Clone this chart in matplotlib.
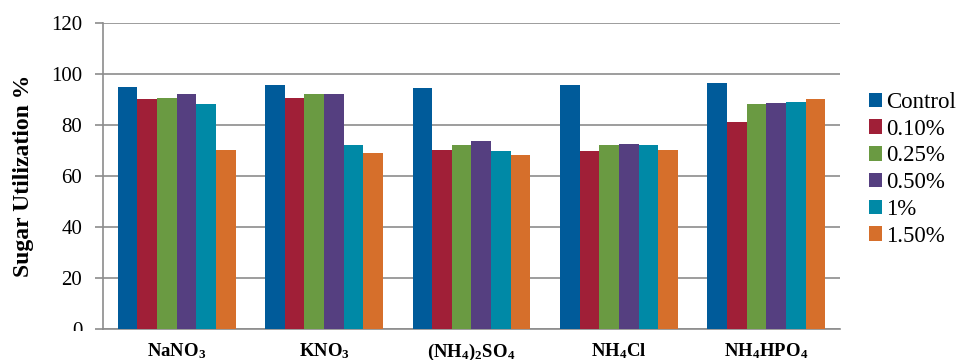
import numpy as np
import matplotlib
matplotlib.use("Agg")
import matplotlib.pyplot as plt
from matplotlib.patches import Rectangle

plt.rcParams['font.family'] = ['Liberation Serif', 'DejaVu Serif']
plt.rcParams['mathtext.fontset'] = 'custom'
plt.rcParams['mathtext.rm'] = 'Liberation Serif'
plt.rcParams['mathtext.bf'] = 'Liberation Serif:bold'

salts = [r'$\mathbf{NaNO_3}$', r'$\mathbf{KNO_3}$', r'$\mathbf{(NH_4)_2SO_4}$',
         r'$\mathbf{NH_4Cl}$', r'$\mathbf{NH_4HPO_4}$']
series = ['Control', '0.10%', '0.25%', '0.50%', '1%', '1.50%']
colors = ['#005b9a', '#a01f37', '#6a9a42', '#553f80', '#0089a6', '#d66f2b']

control = [95.0, 95.8, 94.7, 95.8, 96.3]
c010 = [90.2, 90.5, 70.1, 70.0, 81.2]
c025 = [90.7, 92.0, 72.0, 72.2, 88.4]
c050 = [92.3, 92.2, 73.8, 72.7, 88.6]
c100 = [88.4, 72.0, 70.0, 72.0, 89.0]
c150 = [70.1, 69.2, 68.4, 70.2, 90.1]
values = [control, c010, c025, c050, c100, c150]

fig = plt.figure(figsize=(9.56, 3.6), dpi=100)
ax = fig.add_axes([0.1077, 0.0861, 0.7710, 0.8500])

x = np.arange(len(salts))
width = 0.8 / len(series)
for i, (name, vals) in enumerate(zip(series, values)):
    ax.bar(x - 0.4 + width * (i + 0.5), vals, width, color=colors[i],
           label=name, zorder=3)

ax.set_xlim(-0.5, len(salts) - 0.5)
ax.set_ylim(0, 120)
ax.set_yticks(np.arange(0, 121, 20))
ax.yaxis.grid(True, color='#8c8c8c', linewidth=1.2, zorder=0)
for s in ['top', 'right']:
    ax.spines[s].set_visible(False)
for s in ['left', 'bottom']:
    ax.spines[s].set_color('#8c8c8c')
    ax.spines[s].set_linewidth(1.2)
ax.tick_params(axis='y', length=6, width=1.2, color='#8c8c8c',
               labelsize=15, pad=9)
ax.tick_params(axis='x', length=0, labelsize=13.5, pad=9)
ax.set_xticks(x)
ax.set_xticklabels(salts)
ax.set_ylabel('Sugar Utilization %', fontsize=17, fontweight='bold',
               labelpad=12)

fig.legend(loc='upper left', bbox_to_anchor=(0.899, 0.77), frameon=False,
           prop=dict(family='Liberation Serif', size=16.5),
           handlelength=0.6, handleheight=0.6,
           handletextpad=0.15, labelspacing=0.25, borderaxespad=0)

# white strip under the plot area hides the lower half of the "0" label
fig.patches.append(Rectangle((0.03, 0.05), 0.075, 0.03, transform=fig.transFigure,
                             facecolor='white', edgecolor='none', zorder=10))

fig.savefig('out.png', dpi=100)
